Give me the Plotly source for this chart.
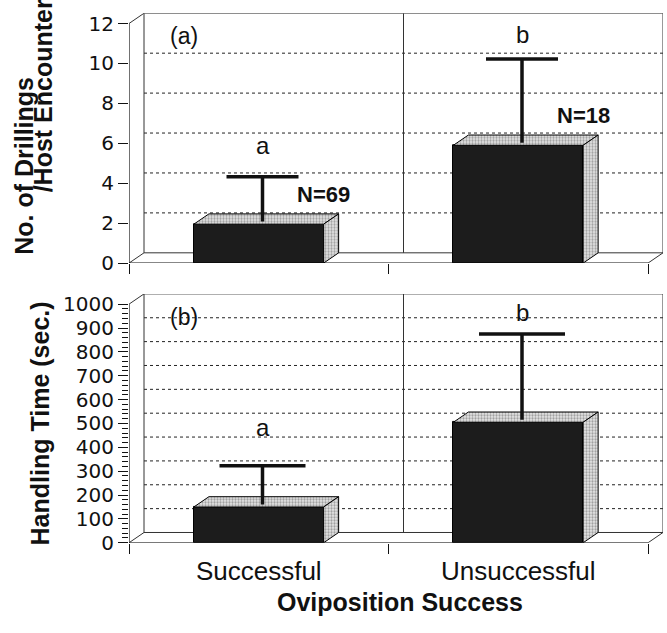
import plotly.graph_objects as go

# ---- data -------------------------------------------------------------
categories = ["Successful", "Unsuccessful"]
drillings_mean = [1.95, 5.9]
drillings_upper = [4.2, 10.1]
handling_mean = [150, 505]
handling_upper = [312, 864]
sig_letters = ["a", "b"]
sample_sizes = ["N=69", "N=18"]

# ---- page geometry (pixels) -------------------------------------------
W, H = 667, 633
FRONT_LEFT, FRONT_RIGHT = 129, 648      # front edge of the floor
DEPTH_X, DEPTH_Y = 15, 10.5             # oblique depth of the 3-D box
BAR_WIDTH = 0.5
ERR_DEPTH = 0.25                        # error bars sit slightly behind the face
INK = "#111111"
WALL = "#333333"

panels = [
    dict(mean=drillings_mean, upper=drillings_upper, ymax=12, dtick=2,
         minor=None, bottom=267, top=22, cap=36, label="(a)",
         letter_lift=[16, 9]),
    dict(mean=handling_mean, upper=handling_upper, ymax=1000, dtick=100,
         minor=20, bottom=553, top=309, cap=43, label="(b)",
         letter_lift=[23, 6]),
]

fig = go.Figure()
shapes, annotations = [], []
x_per_px = 2.0 / (FRONT_RIGHT - FRONT_LEFT)
DX = DEPTH_X * x_per_px

for i, p in enumerate(panels):
    sfx = "" if i == 0 else str(i + 1)
    xa, ya = "x" + sfx, "y" + sfx
    y_per_px = p["ymax"] / (p["bottom"] - p["top"])
    DY = DEPTH_Y * y_per_px
    ymax = p["ymax"]

    fig.update_layout({
        "xaxis" + sfx: dict(
            domain=[FRONT_LEFT / W, (FRONT_RIGHT + DEPTH_X) / W],
            range=[-0.5, 1.5 + DX], showgrid=False, zeroline=False,
            showline=False, tickvals=[0, 1], ticktext=categories,
            ticks="", showticklabels=(i == 1), ticklabelstandoff=10,
            tickfont=dict(family="Liberation Sans", size=26, color=INK),
            minor=dict(tickvals=[-0.5, 0.5, 1.5], ticks="outside",
                       ticklen=10, tickwidth=1.2, tickcolor=INK,
                       showgrid=False),
            anchor=ya, fixedrange=True),
        "yaxis" + sfx: dict(
            domain=[(H - p["bottom"]) / H, (H - p["top"] + DEPTH_Y) / H],
            range=[0, ymax + DY], showgrid=False, zeroline=False,
            showline=False, dtick=p["dtick"], tick0=0, ticks="outside",
            ticklen=10, tickwidth=1.2, tickcolor=INK,
            tickfont=dict(family="DejaVu Sans", size=20, color=INK),
            anchor=xa, fixedrange=True,
            minor=(dict(tickvals=list(range(0, ymax + 1, p["minor"])),
                        ticks="outside", ticklen=6, tickwidth=1,
                        tickcolor=INK, showgrid=False)
                   if p["minor"] else None)),
    })

    def seg(x0, y0, x1, y1, color=WALL, width=1, dash="solid"):
        shapes.append(dict(type="line", xref=xa, yref=ya, x0=x0, y0=y0,
                           x1=x1, y1=y1, layer="below",
                           line=dict(color=color, width=width, dash=dash)))

    # back wall, dotted gridlines and category divider
    for v in range(p["dtick"], ymax, p["dtick"]):
        seg(-0.5 + DX, v + DY, 1.5 + DX, v + DY, color="#222222", dash="dot")
    shapes.append(dict(type="rect", xref=xa, yref=ya, x0=-0.5 + DX, y0=DY,
                       x1=1.5 + DX, y1=ymax + DY, layer="below",
                       line=dict(color=WALL, width=1)))
    seg(0.5 + DX, DY, 0.5 + DX, ymax + DY)
    # left wall and floor edges
    seg(-0.5, ymax, -0.5 + DX, ymax + DY)
    seg(-0.5, 0, -0.5 + DX, DY)
    seg(1.5, 0, 1.5 + DX, DY)
    seg(-0.5, 0, 1.5, 0, color=INK, width=1.2)
    seg(-0.5, 0, -0.5, ymax, color=INK, width=1.2)

    # front faces of the columns
    fig.add_trace(go.Bar(x=[0, 1], y=p["mean"], width=BAR_WIDTH, xaxis=xa,
                         yaxis=ya, marker=dict(color="#1c1c1c",
                         line=dict(color="black", width=1)),
                         hoverinfo="skip", showlegend=False))
    # top and side faces, stippled grey
    for c, v in zip([0, 1], p["mean"]):
        x0, x1 = c - BAR_WIDTH / 2, c + BAR_WIDTH / 2
        faces = [
            ([x0, x0 + DX, x1 + DX, x1, x0], [v, v + DY, v + DY, v, v]),
            ([x1, x1 + DX, x1 + DX, x1, x1], [0, DY, v + DY, v, 0]),
        ]
        for fx, fy in faces:
            fig.add_trace(go.Scatter(
                x=fx, y=fy, xaxis=xa, yaxis=ya, mode="lines", fill="toself",
                fillcolor="#d0d0d0",
                fillpattern=dict(shape=".", fgcolor="#555555",
                                 bgcolor="#e6e6e6", size=3, solidity=0.45),
                line=dict(color="black", width=1), hoverinfo="skip",
                showlegend=False))

    # upper error bars: stem from the column top, cap at mean + error
    cap_half = p["cap"] * x_per_px
    ex, ey = [], []
    for c, m, u in zip([0, 1], p["mean"], p["upper"]):
        xc = c + ERR_DEPTH * DX
        ex += [xc, xc, None, xc - cap_half, xc + cap_half, None]
        ey += [m + ERR_DEPTH * DY, u + ERR_DEPTH * DY, None,
               u + ERR_DEPTH * DY, u + ERR_DEPTH * DY, None]
    fig.add_trace(go.Scatter(x=ex, y=ey, xaxis=xa, yaxis=ya, mode="lines",
                             line=dict(color=INK, width=3.5),
                             hoverinfo="skip", showlegend=False))

    for c, u, letter, lift in zip([0, 1], p["upper"], sig_letters,
                                  p["letter_lift"]):
        annotations.append(dict(x=c + ERR_DEPTH * DX, y=u + ERR_DEPTH * DY,
                                xref=xa, yref=ya, text=letter,
                                showarrow=False, xanchor="center",
                                yanchor="bottom", yshift=lift,
                                font=dict(family="Liberation Sans", size=24,
                                          color=INK)))
    annotations.append(dict(x=0.103, y=0.908, xref=xa + " domain",
                            yref=ya + " domain", text=p["label"],
                            showarrow=False, xanchor="center",
                            yanchor="middle",
                            font=dict(family="Liberation Sans", size=23,
                                      color=INK)))

# sample sizes beside the upper-panel columns
for c, v, n in zip([0, 1], drillings_mean, sample_sizes):
    annotations.append(dict(x=c + BAR_WIDTH / 2, y=v, xref="x", yref="y",
                            text=n, showarrow=False, xanchor="center",
                            yanchor="middle", yshift=30,
                            font=dict(family="Liberation Sans", size=22,
                                      color=INK, weight="bold")))

title_font = dict(family="Liberation Sans", size=25, color=INK, weight="bold")
for text, px, py in [("No. of Drillings", 24, 167.5),
                     ("/Host Encounter", 43, 96.5),
                     ("Handling Time (sec.)", 40, 431)]:
    annotations.append(dict(x=px / W, y=1 - py / H, xref="paper",
                            yref="paper", text=text, textangle=-90,
                            xanchor="center", yanchor="middle",
                            showarrow=False, font=title_font))
annotations.append(dict(x=400 / W, y=1 - 614 / H, xref="paper", yref="paper",
                        text="Oviposition Success", showarrow=False,
                        xanchor="center", yanchor="middle", font=title_font))

fig.update_layout(width=W, height=H, margin=dict(l=0, r=0, t=0, b=0),
                  paper_bgcolor="white", plot_bgcolor="white",
                  shapes=shapes, annotations=annotations, bargap=0,
                  hovermode=False, showlegend=False)

fig.write_html("out.html", config=dict(displayModeBar=False))
